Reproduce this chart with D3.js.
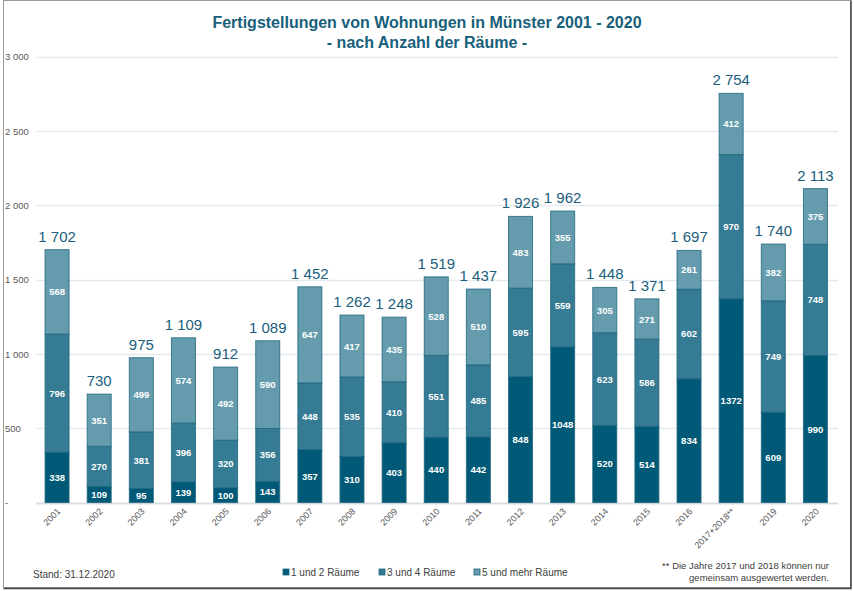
<!DOCTYPE html>
<html>
<head>
<meta charset="utf-8">
<script src="https://cdn.jsdelivr.net/npm/d3@7"></script>
<style>
  body { margin: 0; background: #fff; }
  svg { display: block; font-family: "Liberation Sans", Arial, sans-serif; }
</style>
</head>
<body>
<svg id="chart" width="854" height="591"></svg>
<script>
// Fertigstellungen von Wohnungen nach Anzahl der Räume
var years = ['2001', '2002', '2003', '2004', '2005', '2006', '2007', '2008', '2009', '2010',
  '2011', '2012', '2013', '2014', '2015', '2016', '2017+2018**', '2019', '2020'];
var r12 = [338, 109, 95, 139, 100, 143, 357, 310, 403, 440, 442, 848, 1048, 520, 514, 834, 1372, 609, 990];
var r34 = [796, 270, 381, 396, 320, 356, 448, 535, 410, 551, 485, 595, 559, 623, 586, 602, 970, 749, 748];
var r5 = [568, 351, 499, 574, 492, 590, 647, 417, 435, 528, 510, 483, 355, 305, 271, 261, 412, 382, 375];
var seriesNames = ['1 und 2 Räume', '3 und 4 Räume', '5 und mehr Räume'];
var yTicks = [0, 500, 1000, 1500, 2000, 2500, 3000];

var colors = ['#005a77', '#357b93', '#659cad'];
var svg = d3.select('#chart');

// frame
svg.append('rect').attr('x', 3.5).attr('y', 0.5).attr('width', 847).attr('height', 587)
  .attr('fill', 'none').attr('stroke', '#9a9a9a');
svg.append('path').attr('d', 'M851,0.5V588.5H3.5').attr('fill', 'none').attr('stroke', '#444').attr('stroke-width', 1.5);

var x = d3.scaleBand().domain(years).range([36, 836.5]).paddingInner(0.43).paddingOuter(0.215);
var y = d3.scaleLinear().domain([0, 3000]).range([502.6, 56.8]);

var fmt = function (v) {
  return v === 0 ? '-' : d3.format(',')(v).replace(/,/g, ' ');
};

// grid + y labels
svg.append('g').selectAll('line').data(yTicks).enter().append('line')
  .attr('x1', 36).attr('x2', 838)
  .attr('y1', function (d) { return Math.round(y(d)) + 0.5; })
  .attr('y2', function (d) { return Math.round(y(d)) + 0.5; })
  .attr('stroke', function (d) { return d === 0 ? '#d9dee2' : '#e3eaee'; })
  .attr('stroke-width', function (d) { return d === 0 ? 2 : 1.5; });

svg.append('g').selectAll('text').data(yTicks).enter().append('text')
  .attr('x', 5).attr('y', function (d) { return y(d) + 3.5; })
  .attr('font-size', 9.5).attr('fill', '#595959')
  .text(fmt);

// stacked bars
var rows = years.map(function (yr, i) {
  return { year: yr, r12: r12[i], r34: r34[i], r5: r5[i] };
});
var stack = d3.stack().keys(['r12', 'r34', 'r5'])(rows);

var layers = svg.append('g').selectAll('g').data(stack).enter().append('g')
  .attr('fill', function (d, i) { return colors[i]; });

layers.selectAll('rect').data(function (d) { return d; }).enter().append('rect')
  .attr('x', function (d) { return x(d.data.year); })
  .attr('width', x.bandwidth())
  .attr('y', function (d) { return y(d[1]); })
  .attr('height', function (d) { return y(d[0]) - y(d[1]); })
  .attr('stroke', '#1e6580').attr('stroke-width', 1).attr('stroke-opacity', 0.8);

layers.selectAll('text').data(function (d) { return d; }).enter().append('text')
  .attr('x', function (d) { return x(d.data.year) + x.bandwidth() / 2; })
  .attr('y', function (d) { return (y(d[0]) + y(d[1])) / 2 + 3.5; })
  .attr('text-anchor', 'middle').attr('font-size', 9.5).attr('font-weight', 'bold')
  .attr('fill', '#fff')
  .text(function (d) { return d[1] - d[0]; });

// totals
svg.append('g').selectAll('text').data(rows).enter().append('text')
  .attr('x', function (d) { return x(d.year) + x.bandwidth() / 2; })
  .attr('y', function (d) { return y(d.r12 + d.r34 + d.r5) - 8; })
  .attr('text-anchor', 'middle').attr('font-size', 15).attr('fill', '#1a5e7c')
  .text(function (d) { return fmt(d.r12 + d.r34 + d.r5); });

// x labels
svg.append('g').selectAll('text').data(years).enter().append('text')
  .attr('transform', function (d) {
    return 'translate(' + (x(d) + x.bandwidth() / 2 + 4) + ',512) rotate(-45)';
  })
  .attr('text-anchor', 'end').attr('font-size', 9).attr('fill', '#595959')
  .text(function (d) { return d; });

// title
svg.append('text').attr('x', 427).attr('y', 28).attr('text-anchor', 'middle')
  .attr('font-size', 16).attr('font-weight', 'bold').attr('fill', '#17607a')
  .text('Fertigstellungen von Wohnungen in Münster 2001 - 2020');
svg.append('text').attr('x', 427).attr('y', 48).attr('text-anchor', 'middle')
  .attr('font-size', 16).attr('font-weight', 'bold').attr('fill', '#17607a')
  .text('- nach Anzahl der Räume -');

// legend
var legendX = [283, 379, 474];
var lg = svg.append('g').selectAll('g').data(seriesNames).enter().append('g')
  .attr('transform', function (d, i) { return 'translate(' + legendX[i] + ',569)'; });
lg.append('rect').attr('width', 6).attr('height', 6)
  .attr('fill', function (d, i) { return colors[i]; })
  .attr('stroke', '#1e6580').attr('stroke-width', 0.8);
lg.append('text').attr('x', 8).attr('y', 7).attr('font-size', 10).attr('fill', '#404040')
  .text(function (d) { return d; });

svg.append('text').attr('x', 33).attr('y', 578).attr('font-size', 10).attr('fill', '#404040')
  .text('Stand: 31.12.2020');

var notes = ['** Die Jahre 2017 und 2018 können nur', 'gemeinsam ausgewertet werden.'];
svg.append('g').selectAll('text').data(notes).enter().append('text')
  .attr('x', 829).attr('y', function (d, i) { return 569 + i * 11.5; })
  .attr('text-anchor', 'end').attr('font-size', 9.5).attr('fill', '#404040')
  .text(function (d) { return d; });
</script>
</body>
</html>
